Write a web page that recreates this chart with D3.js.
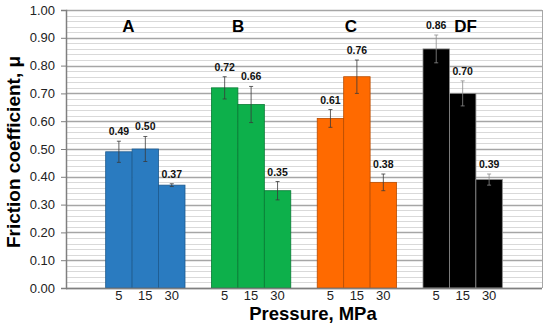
<!DOCTYPE html>
<html>
<head>
  <meta charset="utf-8" />
  <script src="https://d3js.org/d3.v7.min.js"></script>
  <style>
    body { margin: 0; background: #fff; }
    text { font-family: "Liberation Sans", Arial, sans-serif; }
  </style>
</head>
<body>
  <svg width="550" height="327"></svg>
  <script>
    // chart data
    var groups = ["A", "B", "C", "DF"];
    var pressures = ["5", "15", "30"];
    var values = [
      [0.49, 0.50, 0.37],
      [0.72, 0.66, 0.35],
      [0.61, 0.76, 0.38],
      [0.86, 0.70, 0.39]
    ];
    var errors = [
      [0.038, 0.045, 0.005],
      [0.040, 0.065, 0.033],
      [0.032, 0.060, 0.030],
      [0.050, 0.045, 0.020]
    ];
    var colors = ["#2a7bc0", "#0db04b", "#ff6a00", "#000000"];
    var edges = ["#1d5a8e", "#087a34", "#b84c00", "#8a8a8a"];
    var yTicks = d3.range(0, 1.001, 0.1);

    var svg = d3.select("svg");
    var margin = { left: 66, right: 8, top: 10, bottom: 39 };
    var width = 550 - margin.left - margin.right,
      height = 327 - margin.top - margin.bottom;

    var g = svg
      .append("g")
      .attr("transform", "translate(" + margin.left + "," + margin.top + ")");

    var y = d3.scaleLinear().domain([0, 1]).range([height, 0]);
    var x0 = d3
      .scaleBand()
      .domain(groups)
      .range([0, width])
      .paddingInner(0.25)
      .paddingOuter(0.375);
    var x1 = d3.scaleBand().domain(pressures).range([0, x0.bandwidth()]);

    // group letters are not centred in the original, nudge them
    var letterShift = { A: -17, B: -13, C: -6, DF: 3 };
    var letterBaseline = 22; // inside the plot group, which starts at top=10

    // minor gridlines
    g.append("g")
      .selectAll("line")
      .data(d3.range(0, 1.001, 0.02))
      .enter()
      .append("line")
      .attr("x1", 0)
      .attr("x2", width)
      .attr("y1", function (d) { return Math.round(y(d)) + 0.5; })
      .attr("y2", function (d) { return Math.round(y(d)) + 0.5; })
      .attr("stroke", "#d9d9d9")
      .attr("stroke-width", 1);

    // major gridlines
    g.append("g")
      .selectAll("line")
      .data(yTicks)
      .enter()
      .append("line")
      .attr("x1", 0)
      .attr("x2", width)
      .attr("y1", function (d) { return Math.round(y(d)) + 0.5; })
      .attr("y2", function (d) { return Math.round(y(d)) + 0.5; })
      .attr("stroke", "#a6a6a6")
      .attr("stroke-width", 1.3);

    // right border
    g.append("line")
      .attr("x1", width + 0.5)
      .attr("x2", width + 0.5)
      .attr("y1", 0)
      .attr("y2", height)
      .attr("stroke", "#a6a6a6");

    // bars
    var grp = g
      .selectAll(".grp")
      .data(groups)
      .enter()
      .append("g")
      .attr("transform", function (d) { return "translate(" + x0(d) + ",0)"; });

    grp.each(function (gname, gi) {
      var sel = d3.select(this);
      var rows = pressures.map(function (p, i) {
        return { p: p, v: values[gi][i], e: errors[gi][i] };
      });

      sel.selectAll("rect")
        .data(rows)
        .enter()
        .append("rect")
        .attr("x", function (d) { return x1(d.p); })
        .attr("y", function (d) { return y(d.v); })
        .attr("width", x1.bandwidth())
        .attr("height", function (d) { return height - y(d.v); })
        .attr("fill", colors[gi])
        .attr("stroke", edges[gi])
        .attr("stroke-width", 0.8);

      var eb = sel.selectAll(".eb")
        .data(rows)
        .enter()
        .append("g")
        .attr("stroke", gi === 3 ? "#8c8c8c" : "#3a3a3a")
        .attr("stroke-width", 0.8);
      eb.append("line")
        .attr("x1", function (d) { return x1(d.p) + x1.bandwidth() / 2; })
        .attr("x2", function (d) { return x1(d.p) + x1.bandwidth() / 2; })
        .attr("y1", function (d) { return y(d.v + d.e); })
        .attr("y2", function (d) { return y(d.v - d.e); });
      [1, -1].forEach(function (s) {
        eb.append("line")
          .attr("x1", function (d) { return x1(d.p) + x1.bandwidth() / 2 - 2; })
          .attr("x2", function (d) { return x1(d.p) + x1.bandwidth() / 2 + 2; })
          .attr("y1", function (d) { return y(d.v + s * d.e); })
          .attr("y2", function (d) { return y(d.v + s * d.e); });
      });

      sel.selectAll(".lbl")
        .data(rows)
        .enter()
        .append("text")
        .attr("x", function (d) { return x1(d.p) + x1.bandwidth() / 2; })
        .attr("y", function (d) { return y(d.v + d.e) - 6; })
        .attr("text-anchor", "middle")
        .attr("font-size", 10.5)
        .attr("font-weight", "bold")
        .attr("fill", "#111")
        .text(function (d) { return d.v.toFixed(2); });

      sel.append("text")
        .attr("x", x0.bandwidth() / 2 + letterShift[gname])
        .attr("y", letterBaseline)
        .attr("text-anchor", "middle")
        .attr("font-size", 17)
        .attr("font-weight", "bold")
        .attr("fill", "#000")
        .text(gname);

      sel.selectAll(".xt")
        .data(pressures)
        .enter()
        .append("text")
        .attr("x", function (d) { return x1(d) + x1.bandwidth() / 2; })
        .attr("y", height + 12)
        .attr("text-anchor", "middle")
        .attr("font-size", 13)
        .attr("fill", "#222")
        .text(function (d) { return d; });
    });

    // y axis
    var yAxis = g
      .append("g")
      .call(
        d3.axisLeft(y)
          .tickValues(yTicks)
          .tickSize(5)
          .tickFormat(d3.format(".2f"))
      );
    yAxis.select(".domain").attr("stroke", "#7f7f7f").attr("stroke-width", 1.5);
    yAxis.selectAll(".tick line").attr("stroke", "#7f7f7f");
    yAxis.selectAll(".tick text")
      .attr("font-size", 13)
      .attr("fill", "#222")
      .attr("x", -11)
      .style("font-family", "'Liberation Sans', Arial, sans-serif");

    // x axis line
    g.append("line")
      .attr("x1", 0)
      .attr("x2", width)
      .attr("y1", height + 0.5)
      .attr("y2", height + 0.5)
      .attr("stroke", "#7f7f7f")
      .attr("stroke-width", 1.3);

    // axis titles
    svg.append("text")
      .attr("transform", "translate(20,152) rotate(-90)")
      .attr("text-anchor", "middle")
      .attr("font-size", 19)
      .attr("font-weight", "bold")
      .text("Friction coefficient, μ");

    svg.append("text")
      .attr("x", 313)
      .attr("y", 320)
      .attr("text-anchor", "middle")
      .attr("font-size", 18.5)
      .attr("font-weight", "bold")
      .text("Pressure, MPa");
  </script>
</body>
</html>
